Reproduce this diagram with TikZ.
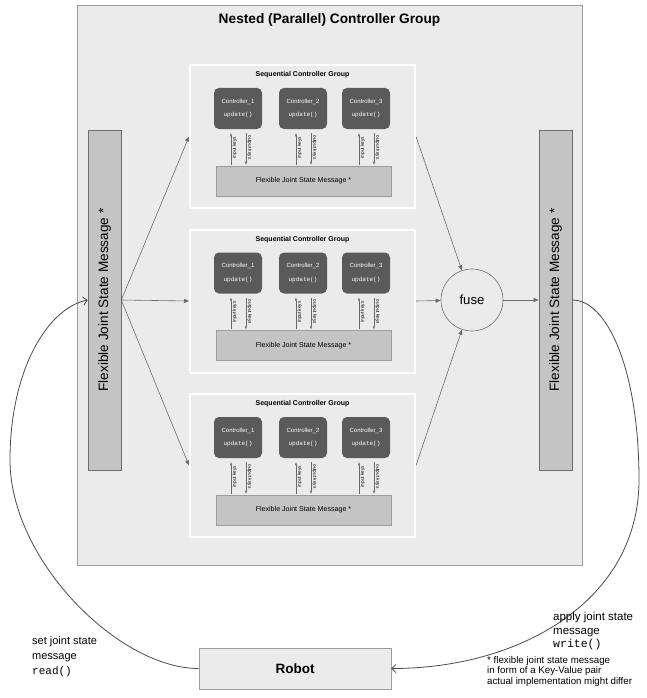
\documentclass[tikz,border=0pt]{standalone}
\usepackage{fontspec}
\usepackage{graphicx}
\setmainfont{Liberation Sans}
\setmonofont{Liberation Mono}
\usetikzlibrary{arrows.meta}
\definecolor{bggray}{HTML}{EBEBEB}
\definecolor{bordergray}{HTML}{9C9C9C}
\definecolor{bargray}{HTML}{C4C4C4}
\definecolor{barline}{HTML}{6E6E6E}
\definecolor{ctlgray}{HTML}{5A5A5A}
\definecolor{arrgray}{HTML}{6A6A6A}
\definecolor{curvegray}{HTML}{4A4A4A}

\begin{document}
\begin{tikzpicture}[x=1pt,y=-1pt,
	outerbox/.style={draw=bordergray,fill=bggray,line width=0.7pt,minimum width=505pt,minimum height=560pt,inner sep=0pt},
	grpbox/.style={draw=white,fill=bggray,line width=2pt,minimum width=225pt,minimum height=143pt,inner sep=0pt},
	bar/.style={draw=barline,fill=bargray,line width=0.6pt,minimum width=33pt,minimum height=340pt,inner sep=0pt,font=\fontsize{13.6}{16}\selectfont},
	msgbox/.style={draw=bordergray,fill=bargray,line width=0.5pt,minimum width=175pt,minimum height=30pt,inner sep=0pt,font=\fontsize{7.1}{9}\selectfont},
	ctrl/.style={fill=ctlgray,rounded corners=5pt,minimum width=48pt,minimum height=41pt,inner sep=0pt,align=center,text=white,font=\fontsize{6}{13.5}\selectfont},
	keylbl/.style={inner sep=1.2pt,font=\fontsize{4.7}{5}\selectfont},
	uparr/.style={draw=arrgray,line width=0.4pt,-{Triangle[length=3pt,width=2pt]},shorten <=1pt,shorten >=4pt},
	downarr/.style={draw=arrgray,line width=0.4pt,-{Triangle[length=3pt,width=2pt]},shorten <=4pt,shorten >=1pt},
	flow/.style={draw=arrgray,line width=0.6pt,-{Triangle[length=5pt,width=4pt]}},
	ioline/.style={draw=curvegray,line width=0.8pt,-{Straight Barb[length=4pt,width=8pt]}},
	iotext/.style={anchor=north west,inner sep=0pt,align=left}]
	\useasboundingbox (0,0) rectangle (646,698);
	\node[outerbox] (outer) at (329.5,285) {};
	\node[font=\fontsize{13.7}{16}\selectfont\bfseries] (title) at (329.5,20) {Nested (Parallel) Controller Group};
	\node[bar] (lmsg) at (104.5,300) {\rotatebox{90}{Flexible Joint State Message *}};
	\node[bar] (rmsg) at (555.5,300) {\rotatebox{90}{Flexible Joint State Message *}};
	\node[circle,draw=arrgray,fill=bggray,line width=0.6pt,minimum size=62pt,inner sep=0pt,font=\fontsize{13.2}{15}\selectfont] (fuse) at (472,300) {fuse};
	\foreach \g/\y in {1/136.5,2/301,3/465.5}{
		\node[grpbox] (grp\g) at (302.5,\y) {};
		\node[font=\fontsize{7}{8}\selectfont\bfseries] (grptitle\g) at (302.5,\y-61.5) {Sequential Controller Group};
		\node[msgbox] (msg\g) at (303.5,\y+44.5) {Flexible Joint State Message *};
		\foreach \c/\dx in {1/-64.5,2/0.5,3/63.5}{
			\node[ctrl] (ctl\g\c) at (302.5+\dx,\y-28) {Controller\_\c\\\texttt{update()}};
			\coordinate (in\g\c) at ([xshift=-7pt]ctl\g\c.south);
			\coordinate (out\g\c) at ([xshift=8pt]ctl\g\c.south);
			\draw[uparr] (in\g\c |- msg\g.north) -- node[keylbl,rotate=90,anchor=north] {input keys} (in\g\c);
			\draw[downarr] (out\g\c) -- node[keylbl,rotate=-90,anchor=south] {output keys} (out\g\c |- msg\g.north);
		}
		\draw[flow] (lmsg.east) -- (grp\g.west);
		\draw[flow] (grp\g.east) -- (fuse);
	}
	\draw[flow] (fuse) -- (rmsg.west);
	\node[draw=bordergray,fill=bggray,line width=0.7pt,minimum width=192pt,minimum height=41pt,inner sep=0pt,font=\fontsize{13.5}{16}\selectfont\bfseries] (robot) at (295,668.5) {Robot};
	\coordinate (lbend) at (10,460);
	\coordinate (rbend) at (639,480);
	\draw[ioline] (rmsg.east) .. controls +(35,0) and +(0,-110) .. (rbend) .. controls +(0,120) and +(130,0) .. (robot.east);
	\draw[ioline] (robot.west) .. controls +(-80,0) and +(0,100) .. (lbend) .. controls +(0,-90) and +(-40,8) .. (lmsg.west);
	\node[iotext,font=\fontsize{11}{15}\selectfont] (readlbl) at (32,636) {set joint state\\message\\\texttt{read()}};
	\node[iotext,font=\fontsize{11.5}{13.5}\selectfont] (writelbl) at (553,612) {apply joint state\\message\\\texttt{write()}};
	\node[iotext,font=\fontsize{9.7}{10.2}\selectfont] (note) at (487,656.5) {* flexible joint state message\\in form of a Key-Value pair\\actual implementation might differ};
\end{tikzpicture}
\end{document}
